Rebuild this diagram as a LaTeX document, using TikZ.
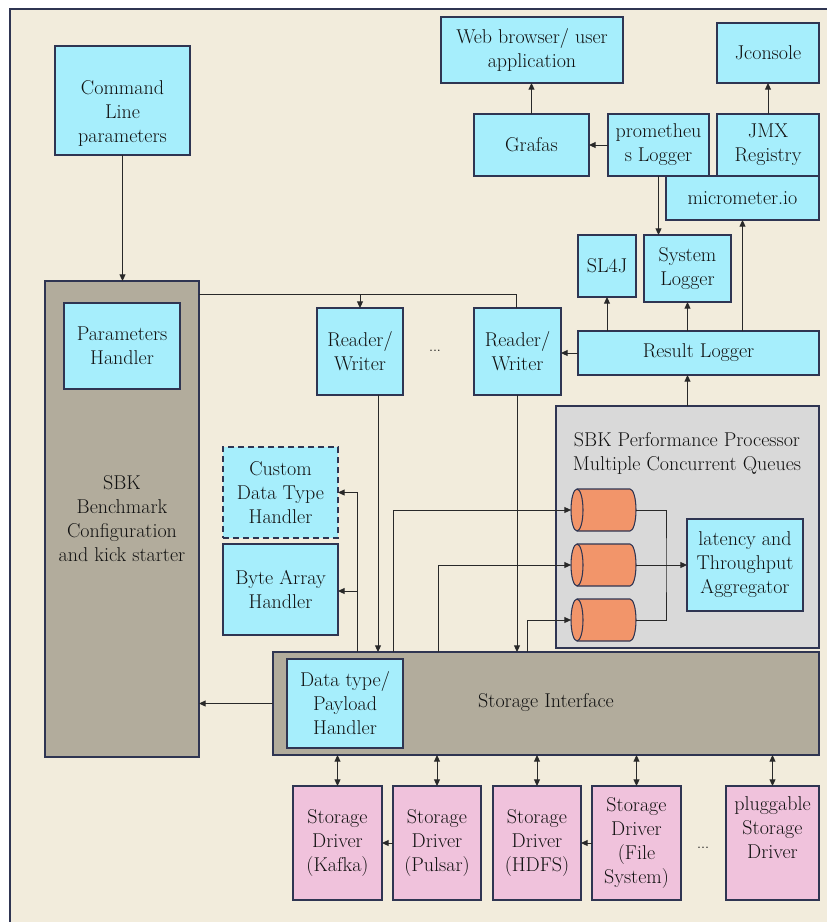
\documentclass[tikz,border=0pt]{standalone}
\usetikzlibrary{arrows.meta}
\definecolor{bg}{HTML}{F2ECDC}
\definecolor{cyanbox}{HTML}{A6EEFC}
\definecolor{taupe}{HTML}{B2AC9C}
\definecolor{lgray}{HTML}{D9D9D9}
\definecolor{pinkbox}{HTML}{F0C2DC}
\definecolor{orangeq}{HTML}{F2956A}
\definecolor{edge}{HTML}{2F3552}
\definecolor{ink}{HTML}{111111}
\newcommand\bx[7]{\node[#2, minimum width={(#5-#3)*0.75pt}, minimum height={(#6-#4)*0.75pt}] (#1) at ({(#3+#5)/2},{(#4+#6)/2}) {#7};}
\newcommand\qcyl[3]{%
  \node[inner sep=0pt, outer sep=0pt, minimum width=48.75pt, minimum height=31.5pt] (#1) at (#2,#3) {};
  \draw[draw=edge, line width=0.8pt, fill=orangeq] ({#2-26.5},{#3-21}) -- ({#2+26.5},{#3-21}) arc[start angle=-90, end angle=90, x radius=6, y radius=21] -- ({#2-26.5},{#3+21}) arc[start angle=90, end angle=270, x radius=6, y radius=21] -- cycle;
  \draw[draw=edge, line width=0.8pt] ({#2-26.5},{#3-21}) arc[start angle=-90, end angle=90, x radius=6, y radius=21];
}
\begin{document}
\begin{tikzpicture}[x=0.75pt, y=-0.75pt,
  font=\fontsize{15}{18}\selectfont,
  box/.style={draw=edge, line width=0.9pt, inner sep=0pt, outer sep=0pt, align=center, text=ink},
  cbox/.style={box, fill=cyanbox},
  tbox/.style={box, fill=taupe},
  pbox/.style={box, fill=pinkbox},
  gbox/.style={box, fill=lgray},
  dbox/.style={cbox, dash pattern=on 4.5pt off 3pt},
  conn/.style={draw=ink!90, line width=0.75pt},
  arr/.style={conn, -{Triangle[length=5pt,width=4.5pt]}},
  darr/.style={conn, {Triangle[length=5pt,width=4.5pt]}-{Triangle[length=5pt,width=4.5pt]}},
  txt/.style={text=ink, align=center, inner sep=0pt}]
\useasboundingbox (0,0) rectangle (826,922);
\fill[white] (0,0) rectangle (826,922);
\draw[draw=edge, line width=0.8pt, fill=bg] (10,9) rectangle (840,940);

\bx{cmd}{cbox}{55}{46}{190}{155}{\strut\\Command\\Line\\parameters}
\bx{sbk}{tbox}{45}{281}{199}{757}{SBK\\Benchmark\\Configuration\\and kick starter}
\bx{param}{cbox}{64}{303}{180}{389}{Parameters\\Handler}
\bx{rw1}{cbox}{317}{308}{403}{395}{Reader/\\Writer}
\bx{rw2}{cbox}{474}{308}{561}{395}{Reader/\\Writer}
\node[txt] (dots1) at (435,351) {\fontsize{11}{12}\selectfont ...};
\bx{web}{cbox}{441}{17}{623}{83}{Web browser/ user\\application}
\bx{jcon}{cbox}{717}{23}{819}{83}{Jconsole}
\bx{graf}{cbox}{474}{114}{589}{176}{Grafas}
\bx{prom}{cbox}{608}{114}{709}{176}{prometheu\\s Logger}
\bx{jmx}{cbox}{717}{114}{819}{176}{JMX\\Registry}
\bx{micro}{cbox}{666}{176}{819}{220}{micrometer.io}
\bx{sl4j}{cbox}{578}{235}{636}{297}{SL4J}
\bx{syslog}{cbox}{644}{235}{731}{302}{System\\Logger}
\bx{rl}{cbox}{578}{331}{819}{375}{Result Logger}
\bx{perf}{gbox}{556}{406}{819}{648}{}
\node[txt] (perft) at (687,453) {SBK Performance Processor\\Multiple Concurrent Queues};
\qcyl{q1}{603.5}{510}
\qcyl{q2}{603.5}{565}
\qcyl{q3}{603.5}{620}
\bx{agg}{cbox}{687}{519}{803}{611}{latency and\\Throughput\\Aggregator}
\bx{cust}{dbox}{223}{447}{338}{538}{Custom\\Data Type\\Handler}
\bx{byte}{cbox}{223}{544}{338}{635}{Byte Array\\Handler}
\bx{si}{tbox}{273}{652}{819}{755}{}
\node[txt] (sit) at (546,703) {Storage Interface};
\bx{dtype}{cbox}{287}{659}{403}{748}{Data type/\\Payload\\Handler}
\bx{kafka}{pbox}{293}{786}{382}{900}{Storage\\Driver\\(Kafka)}
\bx{pulsar}{pbox}{393}{786}{481}{900}{Storage\\Driver\\(Pulsar)}
\bx{hdfs}{pbox}{493}{786}{581}{900}{Storage\\Driver\\(HDFS)}
\bx{fs}{pbox}{592}{786}{681}{900}{Storage\\Driver\\(File\\System)}
\bx{plug}{pbox}{726}{786}{819}{900}{pluggable\\Storage\\Driver\\\strut}
\node[txt] (dots2) at (703,848) {\fontsize{11}{12}\selectfont ...};

\draw[arr] (cmd.south) -- (cmd.south |- sbk.north);
\coordinate (j1) at (360,294);
\coordinate (j2) at (516,294);
\draw[conn] (sbk.east |- j1) -- (j2) -- (j2 |- rw2.north);
\draw[arr] (j1) -- (j1 |- rw1.north);
\draw[arr] (rw1.south -| 378,0) -- (si.north -| 378,0);
\draw[arr] (rw2.south -| 517,0) -- (si.north -| 517,0);
\draw[arr] (si.north -| 357,0) |- (cust.east);
\draw[arr] (357,591) -- (357,591 -| byte.east);
\draw[arr] (si.north -| 393,0) |- (q1.west);
\draw[arr] (si.north -| 438,0) |- (q2.west);
\draw[arr] (si.north -| 527,0) |- (q3.west);
\draw[conn] (q1.east) -| (666,565) |- (q3.east);
\draw[arr] (q2.east) -- (agg.west);
\draw[arr] (perf.north) -- (perf.north |- rl.south);
\draw[arr] (rl.west) -- (rl.west -| rw2.east);
\draw[arr] (rl.north -| sl4j.south) -- (sl4j.south);
\draw[arr] (rl.north -| syslog.south) -- (syslog.south);
\draw[arr] (rl.north -| micro.south) -- (micro.south);
\draw[arr] (prom.south) -- (prom.south |- syslog.north);
\draw[arr] (prom.west) -- (graf.east);
\draw[arr] (graf.north) -- (graf.north |- web.south);
\draw[arr] (jmx.north) -- (jcon.south);
\draw[arr] (si.west) -- (si.west -| sbk.east);
\foreach \d in {kafka,pulsar,hdfs,fs,plug} \draw[darr] (\d.north |- si.south) -- (\d.north);
\draw[arr] (pulsar.west) -- (kafka.east);
\draw[arr] (fs.west) -- (hdfs.east);
\end{tikzpicture}
\end{document}
